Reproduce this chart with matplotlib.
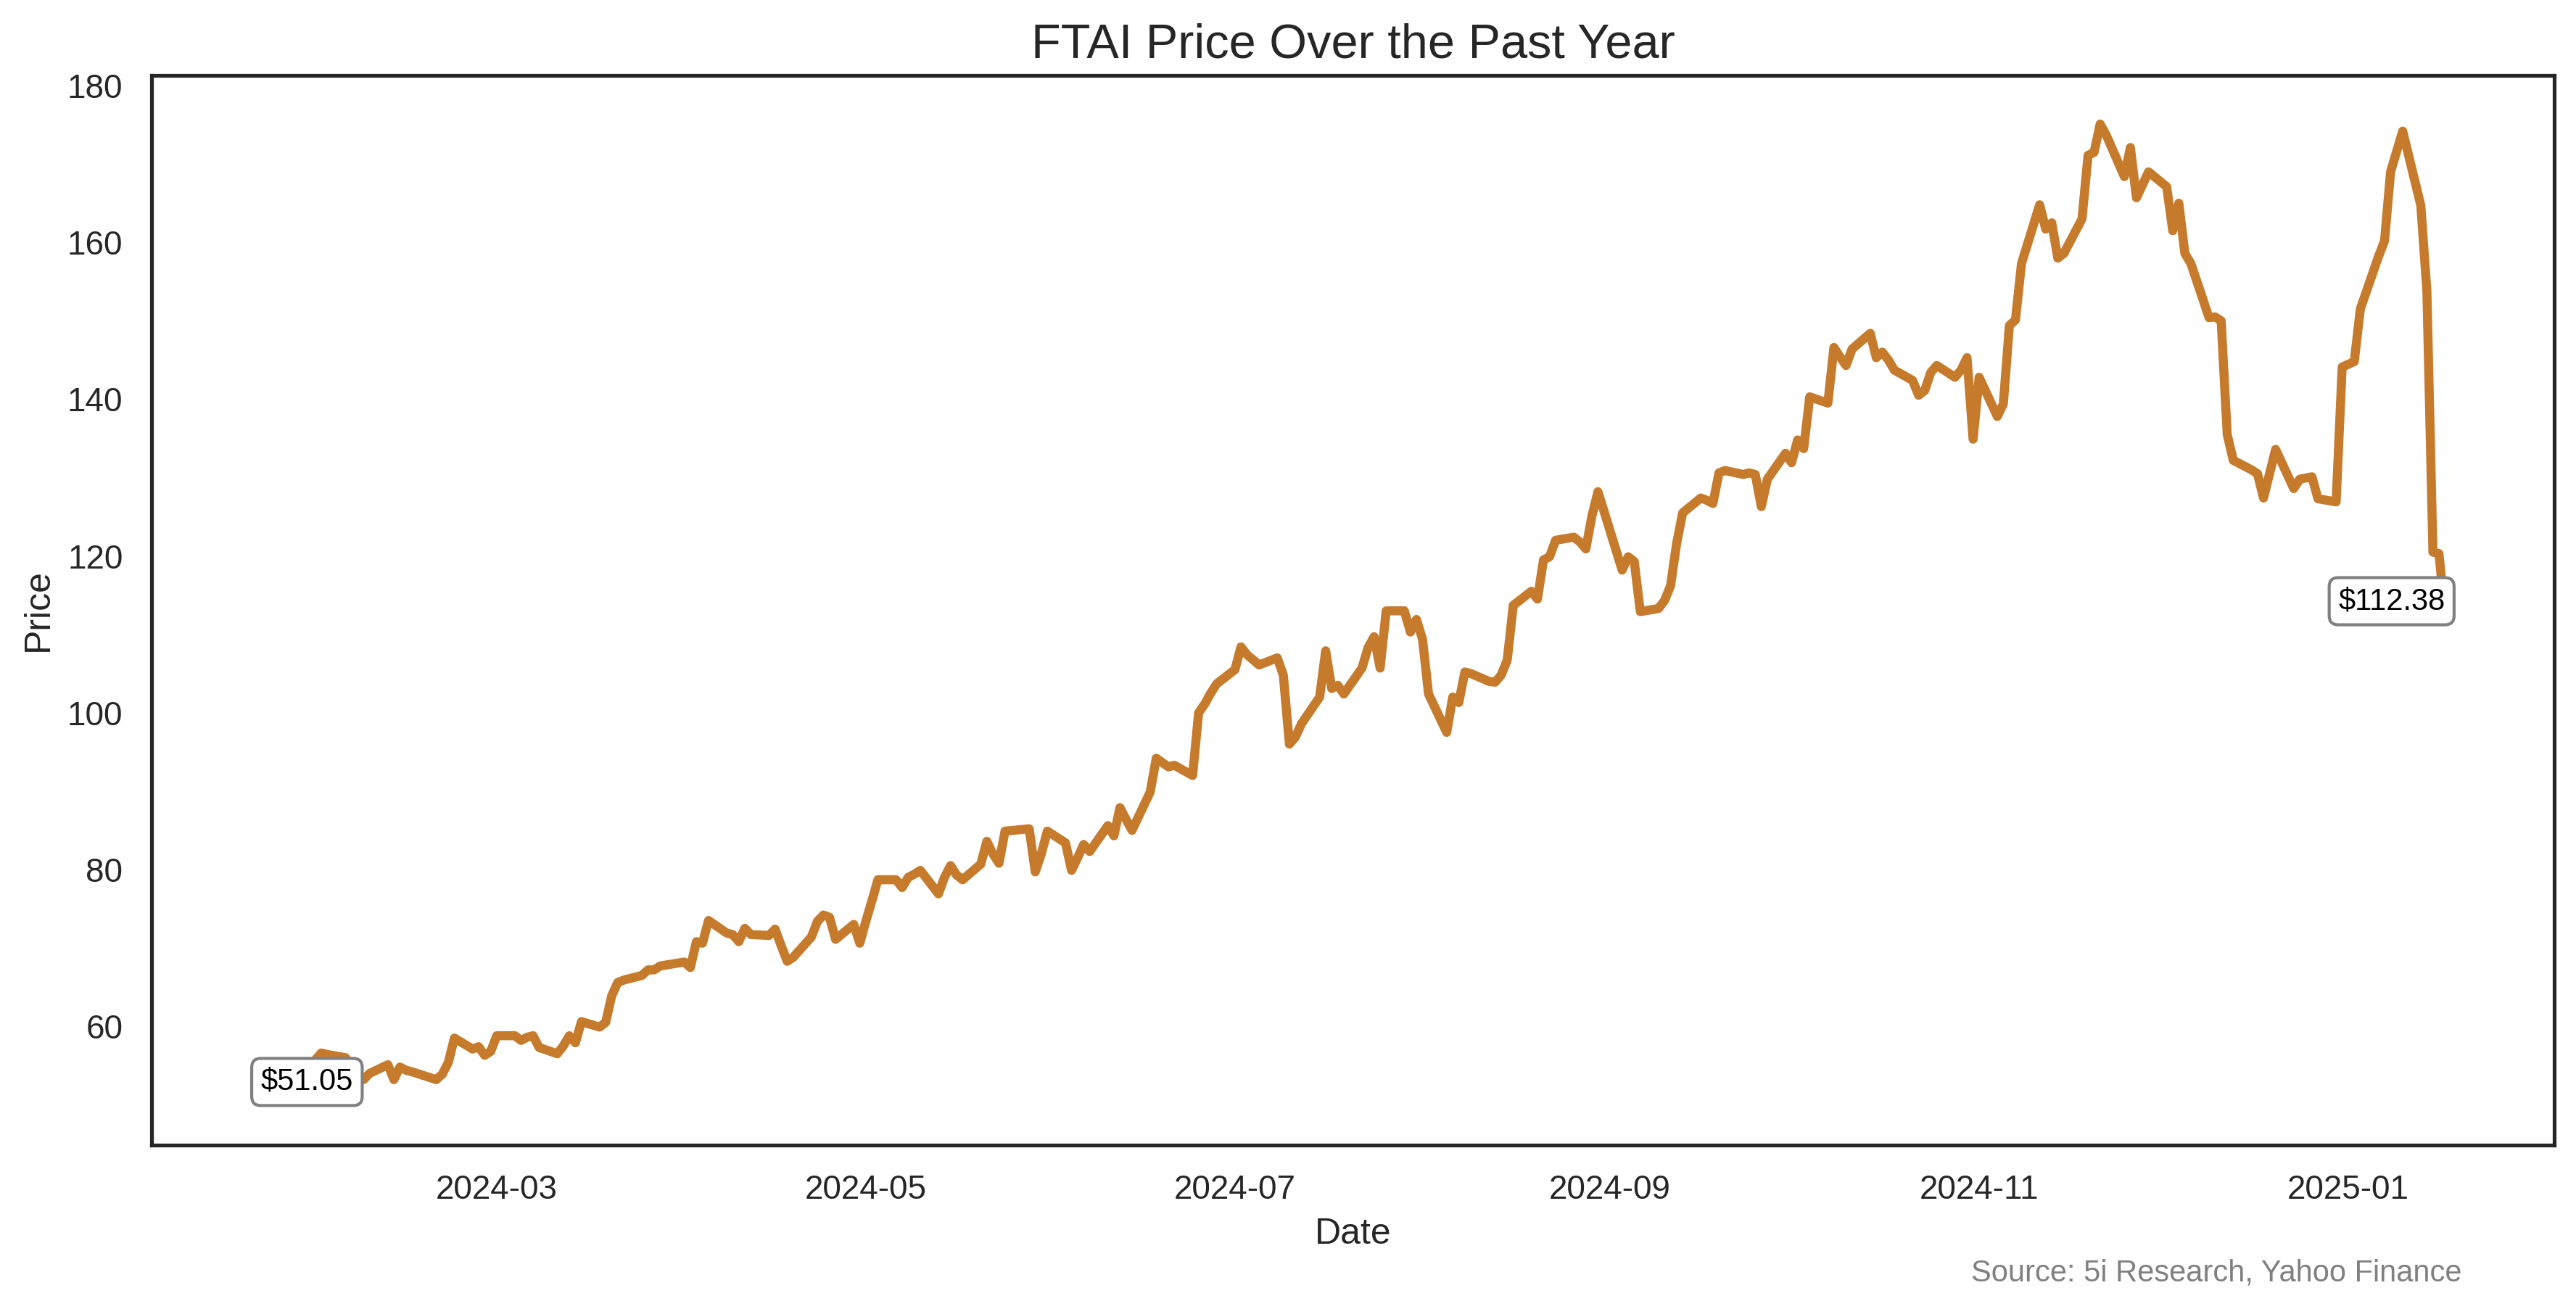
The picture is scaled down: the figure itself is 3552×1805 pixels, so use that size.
import matplotlib
matplotlib.use("Agg")
import matplotlib.pyplot as plt
import seaborn as sns
import pandas as pd

dates = [
    "2024-01-22", "2024-01-23", "2024-01-24", "2024-01-25", "2024-01-26",
    "2024-01-29", "2024-01-30", "2024-01-31", "2024-02-01", "2024-02-02",
    "2024-02-05", "2024-02-06", "2024-02-07", "2024-02-08", "2024-02-09",
    "2024-02-12", "2024-02-13", "2024-02-14", "2024-02-15", "2024-02-16",
    "2024-02-20", "2024-02-21", "2024-02-22", "2024-02-23",
    "2024-02-26", "2024-02-27", "2024-02-28", "2024-02-29", "2024-03-01",
    "2024-03-04", "2024-03-05", "2024-03-06", "2024-03-07", "2024-03-08",
    "2024-03-11", "2024-03-12", "2024-03-13", "2024-03-14", "2024-03-15",
    "2024-03-18", "2024-03-19", "2024-03-20", "2024-03-21", "2024-03-22",
    "2024-03-25", "2024-03-26", "2024-03-27", "2024-03-28",
    "2024-04-01", "2024-04-02", "2024-04-03", "2024-04-04", "2024-04-05",
    "2024-04-08", "2024-04-09", "2024-04-10", "2024-04-11", "2024-04-12",
    "2024-04-15", "2024-04-16", "2024-04-17", "2024-04-18", "2024-04-19",
    "2024-04-22", "2024-04-23", "2024-04-24", "2024-04-25", "2024-04-26",
    "2024-04-29", "2024-04-30", "2024-05-01", "2024-05-02", "2024-05-03",
    "2024-05-06", "2024-05-07", "2024-05-08", "2024-05-09", "2024-05-10",
    "2024-05-13", "2024-05-14", "2024-05-15", "2024-05-16", "2024-05-17",
    "2024-05-20", "2024-05-21", "2024-05-22", "2024-05-23", "2024-05-24",
    "2024-05-28", "2024-05-29", "2024-05-30", "2024-05-31",
    "2024-06-03", "2024-06-04", "2024-06-05", "2024-06-06", "2024-06-07",
    "2024-06-10", "2024-06-11", "2024-06-12", "2024-06-13", "2024-06-14",
    "2024-06-17", "2024-06-18", "2024-06-20", "2024-06-21",
    "2024-06-24", "2024-06-25", "2024-06-26", "2024-06-27", "2024-06-28",
    "2024-07-01", "2024-07-02", "2024-07-03", "2024-07-05",
    "2024-07-08", "2024-07-09", "2024-07-10", "2024-07-11", "2024-07-12",
    "2024-07-15", "2024-07-16", "2024-07-17", "2024-07-18", "2024-07-19",
    "2024-07-22", "2024-07-23", "2024-07-24", "2024-07-25", "2024-07-26",
    "2024-07-29", "2024-07-30", "2024-07-31", "2024-08-01", "2024-08-02",
    "2024-08-05", "2024-08-06", "2024-08-07", "2024-08-08", "2024-08-09",
    "2024-08-12", "2024-08-13", "2024-08-14", "2024-08-15", "2024-08-16",
    "2024-08-19", "2024-08-20", "2024-08-21", "2024-08-22", "2024-08-23",
    "2024-08-26", "2024-08-27", "2024-08-28", "2024-08-29", "2024-08-30",
    "2024-09-03", "2024-09-04", "2024-09-05", "2024-09-06",
    "2024-09-09", "2024-09-10", "2024-09-11", "2024-09-12", "2024-09-13",
    "2024-09-16", "2024-09-17", "2024-09-18", "2024-09-19", "2024-09-20",
    "2024-09-23", "2024-09-24", "2024-09-25", "2024-09-26", "2024-09-27",
    "2024-09-30", "2024-10-01", "2024-10-02", "2024-10-03", "2024-10-04",
    "2024-10-07", "2024-10-08", "2024-10-09", "2024-10-10", "2024-10-11",
    "2024-10-14", "2024-10-15", "2024-10-16", "2024-10-17", "2024-10-18",
    "2024-10-21", "2024-10-22", "2024-10-23", "2024-10-24", "2024-10-25",
    "2024-10-28", "2024-10-29", "2024-10-30", "2024-10-31", "2024-11-01",
    "2024-11-04", "2024-11-05", "2024-11-06", "2024-11-07", "2024-11-08",
    "2024-11-11", "2024-11-12", "2024-11-13", "2024-11-14", "2024-11-15",
    "2024-11-18", "2024-11-19", "2024-11-20", "2024-11-21", "2024-11-22",
    "2024-11-25", "2024-11-26", "2024-11-27", "2024-11-29",
    "2024-12-02", "2024-12-03", "2024-12-04", "2024-12-05", "2024-12-06",
    "2024-12-09", "2024-12-10", "2024-12-11", "2024-12-12", "2024-12-13",
    "2024-12-16", "2024-12-17", "2024-12-18", "2024-12-19", "2024-12-20",
    "2024-12-23", "2024-12-24", "2024-12-26", "2024-12-27",
    "2024-12-30", "2024-12-31", "2025-01-02", "2025-01-03",
    "2025-01-06", "2025-01-07", "2025-01-08", "2025-01-10",
    "2025-01-13", "2025-01-14", "2025-01-15", "2025-01-16", "2025-01-17",
]

prices = [
    51.05, 51.9, 52.8, 53.4, 53.9,
    54.6, 55.0, 55.7, 56.6, 56.4,
    56.0, 55.1, 54.0, 53.2, 54.0,
    55.1, 53.2, 54.8, 54.4, 54.2,
    53.2, 53.9, 55.4, 58.5,
    57.1, 57.4, 56.3, 56.8, 58.8,
    58.8, 58.2, 58.6, 58.8, 57.3,
    56.5, 57.5, 58.8, 57.9, 60.6,
    59.9, 60.5, 63.9, 65.6, 65.9,
    66.5, 67.2, 67.2, 67.7,
    68.2, 67.5, 70.8, 70.6, 73.5,
    71.9, 71.7, 70.8, 72.5, 71.7,
    71.6, 72.4, 70.3, 68.3, 68.8,
    71.4, 73.4, 74.2, 73.9, 71.1,
    73.0, 70.6, 73.4, 76.0, 78.7,
    78.7, 77.7, 79.0, 79.4, 79.9,
    76.9, 79.0, 80.5, 79.3, 78.7,
    80.7, 83.6, 82.0, 80.8, 84.9,
    85.2, 79.7, 82.0, 84.9,
    83.4, 79.9, 81.5, 83.2, 82.3,
    85.6, 84.3, 87.9, 86.4, 85.0,
    89.9, 94.2, 93.1, 93.3,
    92.0, 100.0, 101.1, 102.5, 103.7,
    105.5, 108.4, 107.4, 106.1,
    107.0, 104.8, 96.0, 96.9, 98.6,
    102.0, 107.9, 103.1, 103.5, 102.4,
    105.7, 108.3, 109.7, 105.7, 113.0,
    113.0, 110.3, 111.9, 109.4, 102.4,
    97.5, 102.0, 101.3, 105.2, 105.0,
    104.0, 103.9, 104.8, 106.7, 113.7,
    115.5, 114.5, 119.5, 119.9, 122.0,
    122.4, 121.8, 120.9, 125.1, 128.2,
    118.2, 119.9, 119.3, 112.9,
    113.3, 114.3, 116.2, 121.6, 125.5,
    127.4, 127.1, 126.7, 130.6, 130.9,
    130.4, 130.6, 130.4, 126.3, 129.8,
    133.1, 131.9, 134.8, 133.7, 140.3,
    139.5, 146.6, 145.4, 144.3, 146.4,
    148.4, 145.3, 146.0, 145.0, 143.7,
    142.4, 140.5, 141.1, 143.4, 144.3,
    142.8, 143.7, 145.3, 134.9, 142.8,
    137.8, 139.4, 149.4, 150.1, 157.3,
    164.8, 161.7, 162.5, 158.0, 158.6,
    163.0, 171.1, 171.5, 175.1, 173.7,
    168.4, 172.1, 165.7, 169.0,
    167.1, 161.5, 165.0, 158.6, 157.3,
    150.4, 150.5, 150.0, 135.5, 132.2,
    131.0, 130.5, 127.4, 130.5, 133.6,
    128.6, 129.8, 130.1, 127.3,
    126.9, 144.1, 144.8, 151.5,
    158.2, 160.2, 169.0, 174.2,
    164.7, 153.8, 120.5, 120.3, 112.38,
]

title = "FTAI Price Over the Past Year"
source = "Source: 5i Research, Yahoo Finance"

sns.set_theme(style="white")
plt.rcParams["font.family"] = ["Liberation Sans", "DejaVu Sans"]

x = pd.to_datetime(dates)

fig = plt.figure(figsize=(3552 / 300, 1805 / 300), dpi=300)
ax = fig.add_axes([209 / 3552, 1 - 1579 / 1805, (3522 - 209) / 3552, (1579 - 104) / 1805])

ax.plot(x, prices, color="#C67A2C", linewidth=3, solid_capstyle="round")

ax.set_title(title, fontsize=16)
ax.set_xlabel("Date")
ax.set_ylabel("Price")

box = dict(boxstyle="round,pad=0.3", facecolor="white", edgecolor="gray")
ax.text(x[0], prices[0], f"${prices[0]:.2f}", ha="left", va="bottom",
        fontsize=10, color="black", bbox=box)
ax.text(x[-1], prices[-1], f"${prices[-1]:.2f}", ha="right", va="bottom",
        fontsize=10, color="black", bbox=box)

fig.text(3394 / 3552, 38 / 1805, source, ha="right", va="baseline",
         fontsize=10, color="gray")

fig.savefig("out.png", dpi=300)
